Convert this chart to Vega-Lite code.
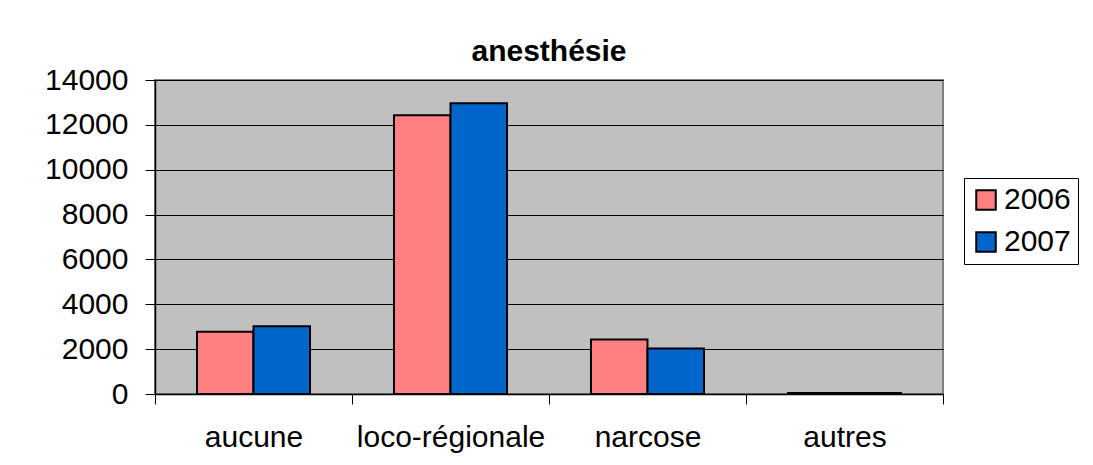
{
  "$schema": "https://vega.github.io/schema/vega-lite/v6.json",
  "autosize": "none",
  "width": 788,
  "height": 314,
  "padding": {"left": 155, "top": 80, "right": 150, "bottom": 71},
  "background": "white",
  "title": {
    "text": "anesthésie",
    "font": "Liberation Sans",
    "fontSize": 30,
    "fontWeight": "bold",
    "color": "black",
    "anchor": "middle",
    "baseline": "bottom",
    "offset": 14,
    "dy": 46
  },
  "config": {
    "view": {"fill": "#C0C0C0", "stroke": "#808080", "strokeWidth": 2},
    "font": "Liberation Sans"
  },
  "data": {
    "values": [
      {"type": "aucune", "year": "2006", "value": 2780},
      {"type": "aucune", "year": "2007", "value": 3020},
      {"type": "loco-régionale", "year": "2006", "value": 12430},
      {"type": "loco-régionale", "year": "2007", "value": 12960},
      {"type": "narcose", "year": "2006", "value": 2430},
      {"type": "narcose", "year": "2007", "value": 2030},
      {"type": "autres", "year": "2006", "value": 50},
      {"type": "autres", "year": "2007", "value": 40}
    ]
  },
  "mark": {"type": "bar", "stroke": "black", "strokeWidth": 2, "strokeJoin": "miter"},
  "encoding": {
    "x": {
      "field": "type",
      "type": "nominal",
      "sort": ["aucune", "loco-régionale", "narcose", "autres"],
      "scale": {"paddingInner": 0, "paddingOuter": 0},
      "axis": {
        "title": null,
        "labelAngle": 0,
        "labelFontSize": 30,
        "labelLimit": 0,
        "labelColor": "black",
        "labelFont": "Liberation Sans",
        "labelPadding": 18,
        "tickBand": "extent",
        "tickSize": 10,
        "tickColor": "black",
        "domainColor": "black",
        "domainWidth": 1.5,
        "grid": false
      }
    },
    "xOffset": {
      "field": "year",
      "type": "nominal",
      "scale": {"paddingInner": 0, "paddingOuter": 0.743}
    },
    "y": {
      "field": "value",
      "type": "quantitative",
      "scale": {"domain": [0, 14000], "nice": false},
      "axis": {
        "title": null,
        "values": [0, 2000, 4000, 6000, 8000, 10000, 12000, 14000],
        "format": "d",
        "labelFontSize": 30,
        "labelColor": "black",
        "labelFont": "Liberation Sans",
        "labelPadding": 17,
        "tickSize": 10,
        "tickColor": "black",
        "domainColor": "black",
        "domainWidth": 1.5,
        "grid": true,
        "gridColor": "black",
        "gridWidth": 1.2,
        "gridOpacity": 1
      }
    },
    "color": {
      "field": "year",
      "type": "nominal",
      "scale": {"domain": ["2006", "2007"], "range": ["#FF8080", "#0066CC"]},
      "legend": {
        "title": null,
        "orient": "none",
        "legendX": 809,
        "legendY": 98,
        "symbolType": "square",
        "symbolSize": 380,
        "symbolStrokeColor": "black",
        "symbolStrokeWidth": 2,
        "symbolOpacity": 1,
        "labelFontSize": 30,
        "labelFont": "Liberation Sans",
        "labelColor": "black",
        "labelOffset": 3,
        "rowPadding": 12,
        "padding": 7,
        "strokeColor": "black",
        "fillColor": "white"
      }
    }
  }
}
